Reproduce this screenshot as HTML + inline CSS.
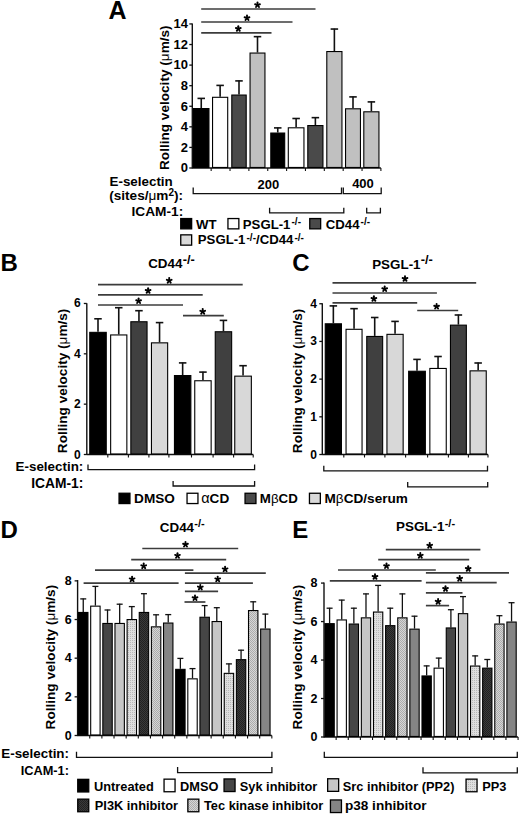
<!DOCTYPE html>
<html><head><meta charset="utf-8"><style>
html,body{margin:0;padding:0;background:#fff;}
svg{display:block;font-family:"Liberation Sans",sans-serif;}
</style></head><body>
<svg width="520" height="814" viewBox="0 0 520 814">
<defs>
<g id="st"><g id="arm"><path d="M-0.8 0 L-0.98 -2.5 A0.98 0.98 0 0 1 0.98 -2.5 L0.8 0 Z"/></g>
<use href="#arm" transform="rotate(72)"/><use href="#arm" transform="rotate(144)"/><use href="#arm" transform="rotate(216)"/><use href="#arm" transform="rotate(288)"/><circle r="1.25"/></g>
<pattern id="pp3" width="2" height="2" patternUnits="userSpaceOnUse"><rect width="2" height="2" fill="#dedede"/><rect width="1" height="1" fill="#b8b8b8"/></pattern>
<pattern id="tec" width="2" height="2" patternUnits="userSpaceOnUse"><rect width="2" height="2" fill="#d6d6d6"/><rect width="1" height="1" fill="#acacac"/><rect x="1" y="1" width="1" height="1" fill="#acacac"/></pattern>
<pattern id="pi3k" width="2" height="2" patternUnits="userSpaceOnUse"><rect width="2" height="2" fill="#3a3a3a"/><rect width="1" height="1" fill="#222"/><rect x="1" y="1" width="1" height="1" fill="#222"/></pattern>
</defs>
<text x="108.50" y="18.80" font-size="25" text-anchor="start" font-weight="bold" >A</text>
<text transform="translate(169.40,97.70) rotate(-90)" font-size="13.6" text-anchor="middle" font-weight="bold">Rolling velocity (<tspan font-weight="normal">μ</tspan>m/s)</text>
<line x1="192.30" y1="23.50" x2="192.30" y2="168.60" stroke="#111" stroke-width="1.4"/>
<line x1="189.30" y1="168.00" x2="192.30" y2="168.00" stroke="#111" stroke-width="1.3"/>
<text x="188.00" y="172.35" font-size="13" text-anchor="end" font-weight="bold" >0</text>
<line x1="189.30" y1="147.42" x2="192.30" y2="147.42" stroke="#111" stroke-width="1.3"/>
<text x="188.00" y="151.77" font-size="13" text-anchor="end" font-weight="bold" >2</text>
<line x1="189.30" y1="126.84" x2="192.30" y2="126.84" stroke="#111" stroke-width="1.3"/>
<text x="188.00" y="131.19" font-size="13" text-anchor="end" font-weight="bold" >4</text>
<line x1="189.30" y1="106.26" x2="192.30" y2="106.26" stroke="#111" stroke-width="1.3"/>
<text x="188.00" y="110.61" font-size="13" text-anchor="end" font-weight="bold" >6</text>
<line x1="189.30" y1="85.68" x2="192.30" y2="85.68" stroke="#111" stroke-width="1.3"/>
<text x="188.00" y="90.03" font-size="13" text-anchor="end" font-weight="bold" >8</text>
<line x1="189.30" y1="65.10" x2="192.30" y2="65.10" stroke="#111" stroke-width="1.3"/>
<text x="188.00" y="69.45" font-size="13" text-anchor="end" font-weight="bold" >10</text>
<line x1="189.30" y1="44.52" x2="192.30" y2="44.52" stroke="#111" stroke-width="1.3"/>
<text x="188.00" y="48.87" font-size="13" text-anchor="end" font-weight="bold" >12</text>
<line x1="189.30" y1="23.94" x2="192.30" y2="23.94" stroke="#111" stroke-width="1.3"/>
<text x="188.00" y="28.29" font-size="13" text-anchor="end" font-weight="bold" >14</text>
<line x1="192.30" y1="168.00" x2="380.90" y2="168.00" stroke="#111" stroke-width="1.4"/>
<line x1="211.16" y1="168.00" x2="211.16" y2="171.00" stroke="#111" stroke-width="1.1"/>
<line x1="230.02" y1="168.00" x2="230.02" y2="171.00" stroke="#111" stroke-width="1.1"/>
<line x1="248.88" y1="168.00" x2="248.88" y2="171.00" stroke="#111" stroke-width="1.1"/>
<line x1="267.74" y1="168.00" x2="267.74" y2="171.00" stroke="#111" stroke-width="1.1"/>
<line x1="286.60" y1="168.00" x2="286.60" y2="171.00" stroke="#111" stroke-width="1.1"/>
<line x1="305.46" y1="168.00" x2="305.46" y2="171.00" stroke="#111" stroke-width="1.1"/>
<line x1="324.32" y1="168.00" x2="324.32" y2="171.00" stroke="#111" stroke-width="1.1"/>
<line x1="343.18" y1="168.00" x2="343.18" y2="171.00" stroke="#111" stroke-width="1.1"/>
<line x1="362.04" y1="168.00" x2="362.04" y2="171.00" stroke="#111" stroke-width="1.1"/>
<line x1="380.90" y1="168.00" x2="380.90" y2="171.00" stroke="#111" stroke-width="1.1"/>
<line x1="201.25" y1="98.00" x2="201.25" y2="108.00" stroke="#111" stroke-width="1.6"/>
<line x1="197.50" y1="98.40" x2="205.00" y2="98.40" stroke="#111" stroke-width="1.6"/>
<rect x="193.55" y="108.55" width="15.40" height="58.90" fill="#000" stroke="#000" stroke-width="1.1"/>
<line x1="220.12" y1="85.00" x2="220.12" y2="96.75" stroke="#111" stroke-width="1.6"/>
<line x1="216.38" y1="85.40" x2="223.88" y2="85.40" stroke="#111" stroke-width="1.6"/>
<rect x="212.55" y="97.30" width="15.15" height="70.15" fill="#fff" stroke="#000" stroke-width="1.1"/>
<line x1="239.00" y1="80.50" x2="239.00" y2="94.50" stroke="#111" stroke-width="1.6"/>
<line x1="235.25" y1="80.90" x2="242.75" y2="80.90" stroke="#111" stroke-width="1.6"/>
<rect x="231.80" y="95.05" width="14.40" height="72.40" fill="#4a4a4a" stroke="#000" stroke-width="1.1"/>
<line x1="257.50" y1="36.25" x2="257.50" y2="52.50" stroke="#111" stroke-width="1.6"/>
<line x1="253.75" y1="36.65" x2="261.25" y2="36.65" stroke="#111" stroke-width="1.6"/>
<rect x="250.05" y="53.05" width="14.90" height="114.40" fill="#c0c0c0" stroke="#000" stroke-width="1.1"/>
<line x1="277.75" y1="127.50" x2="277.75" y2="132.50" stroke="#111" stroke-width="1.6"/>
<line x1="274.00" y1="127.90" x2="281.50" y2="127.90" stroke="#111" stroke-width="1.6"/>
<rect x="270.80" y="133.05" width="13.90" height="34.40" fill="#000" stroke="#000" stroke-width="1.1"/>
<line x1="296.12" y1="118.10" x2="296.12" y2="127.25" stroke="#111" stroke-width="1.6"/>
<line x1="292.38" y1="118.50" x2="299.88" y2="118.50" stroke="#111" stroke-width="1.6"/>
<rect x="288.30" y="127.80" width="15.65" height="39.65" fill="#fff" stroke="#000" stroke-width="1.1"/>
<line x1="315.38" y1="117.25" x2="315.38" y2="125.00" stroke="#111" stroke-width="1.6"/>
<line x1="311.62" y1="117.65" x2="319.12" y2="117.65" stroke="#111" stroke-width="1.6"/>
<rect x="307.80" y="125.55" width="15.15" height="41.90" fill="#4a4a4a" stroke="#000" stroke-width="1.1"/>
<line x1="334.38" y1="28.65" x2="334.38" y2="51.00" stroke="#111" stroke-width="1.6"/>
<line x1="330.62" y1="29.05" x2="338.12" y2="29.05" stroke="#111" stroke-width="1.6"/>
<rect x="326.80" y="51.55" width="15.15" height="115.90" fill="#c0c0c0" stroke="#000" stroke-width="1.1"/>
<line x1="353.00" y1="96.50" x2="353.00" y2="108.25" stroke="#111" stroke-width="1.6"/>
<line x1="349.25" y1="96.90" x2="356.75" y2="96.90" stroke="#111" stroke-width="1.6"/>
<rect x="345.55" y="108.80" width="14.90" height="58.65" fill="#c0c0c0" stroke="#000" stroke-width="1.1"/>
<line x1="371.38" y1="101.50" x2="371.38" y2="111.25" stroke="#111" stroke-width="1.6"/>
<line x1="367.62" y1="101.90" x2="375.12" y2="101.90" stroke="#111" stroke-width="1.6"/>
<rect x="363.80" y="111.80" width="15.15" height="55.65" fill="#c0c0c0" stroke="#000" stroke-width="1.1"/>
<line x1="201.20" y1="9.00" x2="315.50" y2="9.00" stroke="#3c3c3c" stroke-width="1.7"/>
<use href="#st" transform="translate(257.50,5.00) scale(1.0)"/>
<line x1="201.20" y1="22.00" x2="292.50" y2="22.00" stroke="#3c3c3c" stroke-width="1.7"/>
<use href="#st" transform="translate(247.00,18.00) scale(1.0)"/>
<line x1="201.20" y1="32.80" x2="271.50" y2="32.80" stroke="#3c3c3c" stroke-width="1.7"/>
<use href="#st" transform="translate(238.30,28.80) scale(1.0)"/>
<text x="109.50" y="185.50" font-size="13.4" text-anchor="start" font-weight="bold" >E-selectin</text>
<text x="109.20" y="200.00" font-size="13.6" text-anchor="start" font-weight="bold" >(sites/<tspan font-weight="normal">μ</tspan>m<tspan font-size="10" dy="-4">2</tspan><tspan dy="4">):</tspan></text>
<text x="183.20" y="215.50" font-size="13.7" text-anchor="end" font-weight="bold" >ICAM-1:</text>
<path d="M193.20 187.60 V193.60 H341.50 V187.60" fill="none" stroke="#111" stroke-width="1.3"/>
<path d="M343.30 187.60 V193.60 H381.20 V187.60" fill="none" stroke="#111" stroke-width="1.3"/>
<text x="268.30" y="188.50" font-size="13" text-anchor="middle" font-weight="bold" >200</text>
<text x="363.00" y="187.50" font-size="13" text-anchor="middle" font-weight="bold" >400</text>
<path d="M269.60 207.80 V212.80 H343.80 V207.80" fill="none" stroke="#111" stroke-width="1.3"/>
<path d="M366.70 207.80 V212.80 H380.40 V207.80" fill="none" stroke="#111" stroke-width="1.3"/>
<rect x="180.75" y="218.55" width="10.90" height="10.30" fill="#000" stroke="#000" stroke-width="1.3"/>
<text x="196.00" y="228.60" font-size="13.2" text-anchor="start" font-weight="bold" >WT</text>
<rect x="227.95" y="218.55" width="10.90" height="10.30" fill="#fff" stroke="#000" stroke-width="1.3"/>
<text x="242.80" y="228.60" font-size="13.2" text-anchor="start" font-weight="bold" >PSGL-1<tspan font-size="10" dx="1.1" dy="-3.6">-/-</tspan></text>
<rect x="309.75" y="218.55" width="10.90" height="10.30" fill="#4a4a4a" stroke="#000" stroke-width="1.3"/>
<text x="325.80" y="228.60" font-size="13.2" text-anchor="start" font-weight="bold" >CD44<tspan font-size="10" dx="1.1" dy="-3.6">-/-</tspan></text>
<rect x="180.75" y="234.85" width="10.90" height="10.30" fill="#dadada" stroke="#000" stroke-width="1.3"/>
<text x="197.80" y="244.30" font-size="13.2" text-anchor="start" font-weight="bold" >PSGL-1<tspan font-size="10" dx="1.1" dy="-3.6">-/-</tspan><tspan dy="3.6">/CD44</tspan><tspan font-size="10" dx="1.1" dy="-3.6">-/-</tspan></text>
<text x="0.50" y="271.30" font-size="24" text-anchor="start" font-weight="bold" >B</text>
<text x="148.20" y="268.30" font-size="13.4" text-anchor="start" font-weight="bold" >CD44<tspan font-size="12.8" dx="0.2" dy="-4.6">-/-</tspan></text>
<text transform="translate(67.30,380.90) rotate(-90)" font-size="13.6" text-anchor="middle" font-weight="bold">Rolling velocity (<tspan font-weight="normal">μ</tspan>m/s)</text>
<line x1="86.80" y1="303.30" x2="86.80" y2="455.10" stroke="#111" stroke-width="1.4"/>
<line x1="83.80" y1="454.50" x2="86.80" y2="454.50" stroke="#111" stroke-width="1.3"/>
<text x="80.80" y="458.50" font-size="12" text-anchor="end" font-weight="bold" >0</text>
<line x1="83.80" y1="404.16" x2="86.80" y2="404.16" stroke="#111" stroke-width="1.3"/>
<text x="80.80" y="408.16" font-size="12" text-anchor="end" font-weight="bold" >2</text>
<line x1="83.80" y1="353.82" x2="86.80" y2="353.82" stroke="#111" stroke-width="1.3"/>
<text x="80.80" y="357.82" font-size="12" text-anchor="end" font-weight="bold" >4</text>
<line x1="83.80" y1="303.48" x2="86.80" y2="303.48" stroke="#111" stroke-width="1.3"/>
<text x="80.80" y="307.48" font-size="12" text-anchor="end" font-weight="bold" >6</text>
<line x1="86.80" y1="454.50" x2="253.20" y2="454.50" stroke="#111" stroke-width="1.4"/>
<line x1="107.80" y1="454.50" x2="107.80" y2="457.50" stroke="#111" stroke-width="1.1"/>
<line x1="128.40" y1="454.50" x2="128.40" y2="457.50" stroke="#111" stroke-width="1.1"/>
<line x1="148.90" y1="454.50" x2="148.90" y2="457.50" stroke="#111" stroke-width="1.1"/>
<line x1="168.90" y1="454.50" x2="168.90" y2="457.50" stroke="#111" stroke-width="1.1"/>
<line x1="191.50" y1="454.50" x2="191.50" y2="457.50" stroke="#111" stroke-width="1.1"/>
<line x1="213.10" y1="454.50" x2="213.10" y2="457.50" stroke="#111" stroke-width="1.1"/>
<line x1="233.60" y1="454.50" x2="233.60" y2="457.50" stroke="#111" stroke-width="1.1"/>
<line x1="253.20" y1="454.50" x2="253.20" y2="457.50" stroke="#111" stroke-width="1.1"/>
<line x1="98.00" y1="318.40" x2="98.00" y2="331.80" stroke="#111" stroke-width="1.6"/>
<line x1="94.25" y1="318.80" x2="101.75" y2="318.80" stroke="#111" stroke-width="1.6"/>
<rect x="89.75" y="332.35" width="16.50" height="121.60" fill="#000" stroke="#000" stroke-width="1.1"/>
<line x1="118.75" y1="307.30" x2="118.75" y2="334.40" stroke="#111" stroke-width="1.6"/>
<line x1="115.00" y1="307.70" x2="122.50" y2="307.70" stroke="#111" stroke-width="1.6"/>
<rect x="110.65" y="334.95" width="16.20" height="119.00" fill="#fff" stroke="#000" stroke-width="1.1"/>
<line x1="138.95" y1="310.30" x2="138.95" y2="321.20" stroke="#111" stroke-width="1.6"/>
<line x1="135.20" y1="310.70" x2="142.70" y2="310.70" stroke="#111" stroke-width="1.6"/>
<rect x="130.85" y="321.75" width="16.20" height="132.20" fill="#404040" stroke="#000" stroke-width="1.1"/>
<line x1="159.55" y1="322.20" x2="159.55" y2="342.30" stroke="#111" stroke-width="1.6"/>
<line x1="155.80" y1="322.60" x2="163.30" y2="322.60" stroke="#111" stroke-width="1.6"/>
<rect x="151.45" y="342.85" width="16.20" height="111.10" fill="#d8d8d8" stroke="#000" stroke-width="1.1"/>
<line x1="182.65" y1="362.50" x2="182.65" y2="375.00" stroke="#111" stroke-width="1.6"/>
<line x1="178.90" y1="362.90" x2="186.40" y2="362.90" stroke="#111" stroke-width="1.6"/>
<rect x="174.45" y="375.55" width="16.40" height="78.40" fill="#000" stroke="#000" stroke-width="1.1"/>
<line x1="202.95" y1="371.70" x2="202.95" y2="380.20" stroke="#111" stroke-width="1.6"/>
<line x1="199.20" y1="372.10" x2="206.70" y2="372.10" stroke="#111" stroke-width="1.6"/>
<rect x="194.75" y="380.75" width="16.40" height="73.20" fill="#fff" stroke="#000" stroke-width="1.1"/>
<line x1="223.45" y1="320.00" x2="223.45" y2="331.20" stroke="#111" stroke-width="1.6"/>
<line x1="219.70" y1="320.40" x2="227.20" y2="320.40" stroke="#111" stroke-width="1.6"/>
<rect x="215.25" y="331.75" width="16.40" height="122.20" fill="#404040" stroke="#000" stroke-width="1.1"/>
<line x1="243.05" y1="365.30" x2="243.05" y2="375.60" stroke="#111" stroke-width="1.6"/>
<line x1="239.30" y1="365.70" x2="246.80" y2="365.70" stroke="#111" stroke-width="1.6"/>
<rect x="234.75" y="376.15" width="16.60" height="77.80" fill="#d8d8d8" stroke="#000" stroke-width="1.1"/>
<line x1="98.00" y1="284.60" x2="242.70" y2="284.60" stroke="#3c3c3c" stroke-width="1.7"/>
<use href="#st" transform="translate(169.20,280.60) scale(1.0)"/>
<line x1="98.00" y1="294.80" x2="202.70" y2="294.80" stroke="#3c3c3c" stroke-width="1.7"/>
<use href="#st" transform="translate(148.10,290.80) scale(1.0)"/>
<line x1="98.00" y1="305.00" x2="183.00" y2="305.00" stroke="#3c3c3c" stroke-width="1.7"/>
<use href="#st" transform="translate(138.60,301.00) scale(1.0)"/>
<line x1="183.00" y1="315.60" x2="223.80" y2="315.60" stroke="#3c3c3c" stroke-width="1.7"/>
<use href="#st" transform="translate(202.70,311.60) scale(1.0)"/>
<text x="83.30" y="471.30" font-size="13.4" text-anchor="end" font-weight="bold" >E-selectin:</text>
<text x="83.30" y="487.50" font-size="13.8" text-anchor="end" font-weight="bold" >ICAM-1:</text>
<path d="M88.00 464.60 V469.60 H254.60 V464.60" fill="none" stroke="#111" stroke-width="1.3"/>
<path d="M173.10 481.00 V486.00 H254.60 V481.00" fill="none" stroke="#111" stroke-width="1.3"/>
<rect x="119.05" y="493.25" width="10.90" height="10.30" fill="#000" stroke="#000" stroke-width="1.3"/>
<text x="134.10" y="503.30" font-size="13.6" text-anchor="start" font-weight="bold" >DMSO</text>
<rect x="187.05" y="493.25" width="10.90" height="10.30" fill="#fff" stroke="#000" stroke-width="1.3"/>
<text x="201.20" y="503.30" font-size="13.6" text-anchor="start" font-weight="bold" ><tspan font-weight="normal" font-size="14.5">α</tspan>CD</text>
<rect x="245.05" y="493.25" width="10.90" height="10.30" fill="#4a4a4a" stroke="#000" stroke-width="1.3"/>
<text x="259.80" y="503.30" font-size="13.3" text-anchor="start" font-weight="bold" >M<tspan font-weight="normal">β</tspan>CD</text>
<rect x="309.45" y="493.25" width="10.90" height="10.30" fill="#dadada" stroke="#000" stroke-width="1.3"/>
<text x="324.50" y="503.30" font-size="13.6" text-anchor="start" font-weight="bold" >M<tspan font-weight="normal">β</tspan>CD/serum</text>
<text x="292.30" y="271.30" font-size="24" text-anchor="start" font-weight="bold" >C</text>
<text x="372.20" y="268.50" font-size="13.4" text-anchor="start" font-weight="bold" >PSGL-1<tspan font-size="12.8" dx="0.2" dy="-4.6">-/-</tspan></text>
<text transform="translate(302.00,380.90) rotate(-90)" font-size="13.6" text-anchor="middle" font-weight="bold">Rolling velocity (<tspan font-weight="normal">μ</tspan>m/s)</text>
<line x1="322.30" y1="303.30" x2="322.30" y2="455.10" stroke="#111" stroke-width="1.4"/>
<line x1="319.30" y1="454.50" x2="322.30" y2="454.50" stroke="#111" stroke-width="1.3"/>
<text x="316.90" y="458.50" font-size="12" text-anchor="end" font-weight="bold" >0</text>
<line x1="319.30" y1="416.81" x2="322.30" y2="416.81" stroke="#111" stroke-width="1.3"/>
<text x="316.90" y="420.81" font-size="12" text-anchor="end" font-weight="bold" >1</text>
<line x1="319.30" y1="379.12" x2="322.30" y2="379.12" stroke="#111" stroke-width="1.3"/>
<text x="316.90" y="383.12" font-size="12" text-anchor="end" font-weight="bold" >2</text>
<line x1="319.30" y1="341.43" x2="322.30" y2="341.43" stroke="#111" stroke-width="1.3"/>
<text x="316.90" y="345.43" font-size="12" text-anchor="end" font-weight="bold" >3</text>
<line x1="319.30" y1="303.74" x2="322.30" y2="303.74" stroke="#111" stroke-width="1.3"/>
<text x="316.90" y="307.74" font-size="12" text-anchor="end" font-weight="bold" >4</text>
<line x1="322.30" y1="454.50" x2="488.00" y2="454.50" stroke="#111" stroke-width="1.4"/>
<line x1="343.80" y1="454.50" x2="343.80" y2="457.50" stroke="#111" stroke-width="1.1"/>
<line x1="364.50" y1="454.50" x2="364.50" y2="457.50" stroke="#111" stroke-width="1.1"/>
<line x1="384.90" y1="454.50" x2="384.90" y2="457.50" stroke="#111" stroke-width="1.1"/>
<line x1="405.60" y1="454.50" x2="405.60" y2="457.50" stroke="#111" stroke-width="1.1"/>
<line x1="427.60" y1="454.50" x2="427.60" y2="457.50" stroke="#111" stroke-width="1.1"/>
<line x1="448.40" y1="454.50" x2="448.40" y2="457.50" stroke="#111" stroke-width="1.1"/>
<line x1="468.40" y1="454.50" x2="468.40" y2="457.50" stroke="#111" stroke-width="1.1"/>
<line x1="488.00" y1="454.50" x2="488.00" y2="457.50" stroke="#111" stroke-width="1.1"/>
<line x1="333.35" y1="305.50" x2="333.35" y2="323.25" stroke="#111" stroke-width="1.6"/>
<line x1="329.60" y1="305.90" x2="337.10" y2="305.90" stroke="#111" stroke-width="1.6"/>
<rect x="325.25" y="323.80" width="16.20" height="130.15" fill="#000" stroke="#000" stroke-width="1.1"/>
<line x1="354.05" y1="308.25" x2="354.05" y2="328.75" stroke="#111" stroke-width="1.6"/>
<line x1="350.30" y1="308.65" x2="357.80" y2="308.65" stroke="#111" stroke-width="1.6"/>
<rect x="346.05" y="329.30" width="16.00" height="124.65" fill="#fff" stroke="#000" stroke-width="1.1"/>
<line x1="374.70" y1="317.10" x2="374.70" y2="335.90" stroke="#111" stroke-width="1.6"/>
<line x1="370.95" y1="317.50" x2="378.45" y2="317.50" stroke="#111" stroke-width="1.6"/>
<rect x="366.75" y="336.45" width="15.90" height="117.50" fill="#404040" stroke="#000" stroke-width="1.1"/>
<line x1="395.05" y1="321.00" x2="395.05" y2="333.80" stroke="#111" stroke-width="1.6"/>
<line x1="391.30" y1="321.40" x2="398.80" y2="321.40" stroke="#111" stroke-width="1.6"/>
<rect x="386.95" y="334.35" width="16.20" height="119.60" fill="#d8d8d8" stroke="#000" stroke-width="1.1"/>
<line x1="417.00" y1="359.00" x2="417.00" y2="370.70" stroke="#111" stroke-width="1.6"/>
<line x1="413.25" y1="359.40" x2="420.75" y2="359.40" stroke="#111" stroke-width="1.6"/>
<rect x="408.65" y="371.25" width="16.70" height="82.70" fill="#000" stroke="#000" stroke-width="1.1"/>
<line x1="438.05" y1="356.10" x2="438.05" y2="367.90" stroke="#111" stroke-width="1.6"/>
<line x1="434.30" y1="356.50" x2="441.80" y2="356.50" stroke="#111" stroke-width="1.6"/>
<rect x="429.85" y="368.45" width="16.40" height="85.50" fill="#fff" stroke="#000" stroke-width="1.1"/>
<line x1="458.40" y1="314.60" x2="458.40" y2="324.60" stroke="#111" stroke-width="1.6"/>
<line x1="454.65" y1="315.00" x2="462.15" y2="315.00" stroke="#111" stroke-width="1.6"/>
<rect x="450.45" y="325.15" width="15.90" height="128.80" fill="#404040" stroke="#000" stroke-width="1.1"/>
<line x1="478.15" y1="362.60" x2="478.15" y2="370.30" stroke="#111" stroke-width="1.6"/>
<line x1="474.40" y1="363.00" x2="481.90" y2="363.00" stroke="#111" stroke-width="1.6"/>
<rect x="470.05" y="370.85" width="16.20" height="83.10" fill="#d8d8d8" stroke="#000" stroke-width="1.1"/>
<line x1="332.50" y1="282.80" x2="476.20" y2="282.80" stroke="#3c3c3c" stroke-width="1.7"/>
<use href="#st" transform="translate(405.00,278.80) scale(1.0)"/>
<line x1="332.50" y1="293.00" x2="436.90" y2="293.00" stroke="#3c3c3c" stroke-width="1.7"/>
<use href="#st" transform="translate(384.70,289.00) scale(1.0)"/>
<line x1="332.50" y1="302.80" x2="417.20" y2="302.80" stroke="#3c3c3c" stroke-width="1.7"/>
<use href="#st" transform="translate(373.90,298.80) scale(1.0)"/>
<line x1="417.20" y1="310.50" x2="458.20" y2="310.50" stroke="#3c3c3c" stroke-width="1.7"/>
<use href="#st" transform="translate(436.60,306.50) scale(1.0)"/>
<path d="M323.80 465.80 V470.80 H487.50 V465.80" fill="none" stroke="#111" stroke-width="1.3"/>
<path d="M407.70 481.90 V486.90 H487.70 V481.90" fill="none" stroke="#111" stroke-width="1.3"/>
<text x="0.50" y="538.00" font-size="24" text-anchor="start" font-weight="bold" >D</text>
<text x="159.80" y="531.60" font-size="13.4" text-anchor="start" font-weight="bold" >CD44<tspan font-size="11" dx="0.2" dy="-4.6">-/-</tspan></text>
<text transform="translate(55.40,657.10) rotate(-90)" font-size="13.6" text-anchor="middle" font-weight="bold">Rolling velocity (<tspan font-weight="normal">μ</tspan>m/s)</text>
<line x1="77.60" y1="580.00" x2="77.60" y2="736.10" stroke="#111" stroke-width="1.4"/>
<line x1="74.60" y1="735.50" x2="77.60" y2="735.50" stroke="#111" stroke-width="1.3"/>
<text x="71.60" y="739.68" font-size="12.5" text-anchor="end" font-weight="bold" >0</text>
<line x1="74.60" y1="696.84" x2="77.60" y2="696.84" stroke="#111" stroke-width="1.3"/>
<text x="71.60" y="701.02" font-size="12.5" text-anchor="end" font-weight="bold" >2</text>
<line x1="74.60" y1="658.18" x2="77.60" y2="658.18" stroke="#111" stroke-width="1.3"/>
<text x="71.60" y="662.36" font-size="12.5" text-anchor="end" font-weight="bold" >4</text>
<line x1="74.60" y1="619.52" x2="77.60" y2="619.52" stroke="#111" stroke-width="1.3"/>
<text x="71.60" y="623.70" font-size="12.5" text-anchor="end" font-weight="bold" >6</text>
<line x1="74.60" y1="580.86" x2="77.60" y2="580.86" stroke="#111" stroke-width="1.3"/>
<text x="71.60" y="585.04" font-size="12.5" text-anchor="end" font-weight="bold" >8</text>
<line x1="77.60" y1="735.50" x2="271.84" y2="735.50" stroke="#111" stroke-width="1.4"/>
<line x1="89.74" y1="735.50" x2="89.74" y2="738.50" stroke="#111" stroke-width="1.1"/>
<line x1="101.88" y1="735.50" x2="101.88" y2="738.50" stroke="#111" stroke-width="1.1"/>
<line x1="114.02" y1="735.50" x2="114.02" y2="738.50" stroke="#111" stroke-width="1.1"/>
<line x1="126.16" y1="735.50" x2="126.16" y2="738.50" stroke="#111" stroke-width="1.1"/>
<line x1="138.30" y1="735.50" x2="138.30" y2="738.50" stroke="#111" stroke-width="1.1"/>
<line x1="150.44" y1="735.50" x2="150.44" y2="738.50" stroke="#111" stroke-width="1.1"/>
<line x1="162.58" y1="735.50" x2="162.58" y2="738.50" stroke="#111" stroke-width="1.1"/>
<line x1="174.72" y1="735.50" x2="174.72" y2="738.50" stroke="#111" stroke-width="1.1"/>
<line x1="186.86" y1="735.50" x2="186.86" y2="738.50" stroke="#111" stroke-width="1.1"/>
<line x1="199.00" y1="735.50" x2="199.00" y2="738.50" stroke="#111" stroke-width="1.1"/>
<line x1="211.14" y1="735.50" x2="211.14" y2="738.50" stroke="#111" stroke-width="1.1"/>
<line x1="223.28" y1="735.50" x2="223.28" y2="738.50" stroke="#111" stroke-width="1.1"/>
<line x1="235.42" y1="735.50" x2="235.42" y2="738.50" stroke="#111" stroke-width="1.1"/>
<line x1="247.56" y1="735.50" x2="247.56" y2="738.50" stroke="#111" stroke-width="1.1"/>
<line x1="259.70" y1="735.50" x2="259.70" y2="738.50" stroke="#111" stroke-width="1.1"/>
<line x1="271.84" y1="735.50" x2="271.84" y2="738.50" stroke="#111" stroke-width="1.1"/>
<line x1="83.25" y1="598.50" x2="83.25" y2="611.90" stroke="#111" stroke-width="1.3"/>
<line x1="80.25" y1="598.90" x2="86.25" y2="598.90" stroke="#111" stroke-width="1.3"/>
<rect x="78.55" y="612.45" width="9.40" height="122.50" fill="#000" stroke="#000" stroke-width="1.1"/>
<line x1="95.39" y1="586.00" x2="95.39" y2="605.60" stroke="#111" stroke-width="1.3"/>
<line x1="92.39" y1="586.40" x2="98.39" y2="586.40" stroke="#111" stroke-width="1.3"/>
<rect x="90.69" y="606.15" width="9.40" height="128.80" fill="#fff" stroke="#000" stroke-width="1.1"/>
<line x1="107.53" y1="609.60" x2="107.53" y2="622.90" stroke="#111" stroke-width="1.3"/>
<line x1="104.53" y1="610.00" x2="110.53" y2="610.00" stroke="#111" stroke-width="1.3"/>
<rect x="102.83" y="623.45" width="9.40" height="111.50" fill="#464646" stroke="#000" stroke-width="1.1"/>
<line x1="119.67" y1="603.80" x2="119.67" y2="622.90" stroke="#111" stroke-width="1.3"/>
<line x1="116.67" y1="604.20" x2="122.67" y2="604.20" stroke="#111" stroke-width="1.3"/>
<rect x="114.97" y="623.45" width="9.40" height="111.50" fill="#c6c6c6" stroke="#000" stroke-width="1.1"/>
<line x1="131.81" y1="606.20" x2="131.81" y2="619.00" stroke="#111" stroke-width="1.3"/>
<line x1="128.81" y1="606.60" x2="134.81" y2="606.60" stroke="#111" stroke-width="1.3"/>
<rect x="127.11" y="619.55" width="9.40" height="115.40" fill="url(#pp3)" stroke="#000" stroke-width="1.1"/>
<line x1="143.95" y1="593.30" x2="143.95" y2="611.90" stroke="#111" stroke-width="1.3"/>
<line x1="140.95" y1="593.70" x2="146.95" y2="593.70" stroke="#111" stroke-width="1.3"/>
<rect x="139.25" y="612.45" width="9.40" height="122.50" fill="url(#pi3k)" stroke="#000" stroke-width="1.1"/>
<line x1="156.09" y1="614.40" x2="156.09" y2="626.30" stroke="#111" stroke-width="1.3"/>
<line x1="153.09" y1="614.80" x2="159.09" y2="614.80" stroke="#111" stroke-width="1.3"/>
<rect x="151.39" y="626.85" width="9.40" height="108.10" fill="url(#tec)" stroke="#000" stroke-width="1.1"/>
<line x1="168.23" y1="614.20" x2="168.23" y2="622.50" stroke="#111" stroke-width="1.3"/>
<line x1="165.23" y1="614.60" x2="171.23" y2="614.60" stroke="#111" stroke-width="1.3"/>
<rect x="163.53" y="623.05" width="9.40" height="111.90" fill="#858585" stroke="#000" stroke-width="1.1"/>
<line x1="180.37" y1="658.00" x2="180.37" y2="668.80" stroke="#111" stroke-width="1.3"/>
<line x1="177.37" y1="658.40" x2="183.37" y2="658.40" stroke="#111" stroke-width="1.3"/>
<rect x="175.67" y="669.35" width="9.40" height="65.60" fill="#000" stroke="#000" stroke-width="1.1"/>
<line x1="192.51" y1="668.20" x2="192.51" y2="678.30" stroke="#111" stroke-width="1.3"/>
<line x1="189.51" y1="668.60" x2="195.51" y2="668.60" stroke="#111" stroke-width="1.3"/>
<rect x="187.81" y="678.85" width="9.40" height="56.10" fill="#fff" stroke="#000" stroke-width="1.1"/>
<line x1="204.65" y1="605.20" x2="204.65" y2="616.70" stroke="#111" stroke-width="1.3"/>
<line x1="201.65" y1="605.60" x2="207.65" y2="605.60" stroke="#111" stroke-width="1.3"/>
<rect x="199.95" y="617.25" width="9.40" height="117.70" fill="#464646" stroke="#000" stroke-width="1.1"/>
<line x1="216.79" y1="607.30" x2="216.79" y2="621.00" stroke="#111" stroke-width="1.3"/>
<line x1="213.79" y1="607.70" x2="219.79" y2="607.70" stroke="#111" stroke-width="1.3"/>
<rect x="212.09" y="621.55" width="9.40" height="113.40" fill="#c6c6c6" stroke="#000" stroke-width="1.1"/>
<line x1="228.93" y1="663.50" x2="228.93" y2="672.80" stroke="#111" stroke-width="1.3"/>
<line x1="225.93" y1="663.90" x2="231.93" y2="663.90" stroke="#111" stroke-width="1.3"/>
<rect x="224.23" y="673.35" width="9.40" height="61.60" fill="url(#pp3)" stroke="#000" stroke-width="1.1"/>
<line x1="241.07" y1="649.80" x2="241.07" y2="659.10" stroke="#111" stroke-width="1.3"/>
<line x1="238.07" y1="650.20" x2="244.07" y2="650.20" stroke="#111" stroke-width="1.3"/>
<rect x="236.37" y="659.65" width="9.40" height="75.30" fill="url(#pi3k)" stroke="#000" stroke-width="1.1"/>
<line x1="253.21" y1="601.40" x2="253.21" y2="610.00" stroke="#111" stroke-width="1.3"/>
<line x1="250.21" y1="601.80" x2="256.21" y2="601.80" stroke="#111" stroke-width="1.3"/>
<rect x="248.51" y="610.55" width="9.40" height="124.40" fill="url(#tec)" stroke="#000" stroke-width="1.1"/>
<line x1="265.35" y1="613.70" x2="265.35" y2="628.50" stroke="#111" stroke-width="1.3"/>
<line x1="262.35" y1="614.10" x2="268.35" y2="614.10" stroke="#111" stroke-width="1.3"/>
<rect x="260.65" y="629.05" width="9.40" height="105.90" fill="#858585" stroke="#000" stroke-width="1.1"/>
<line x1="142.30" y1="548.50" x2="238.20" y2="548.50" stroke="#3c3c3c" stroke-width="1.7"/>
<use href="#st" transform="translate(185.50,544.50) scale(1.0)"/>
<line x1="131.20" y1="559.70" x2="226.20" y2="559.70" stroke="#3c3c3c" stroke-width="1.7"/>
<use href="#st" transform="translate(177.50,555.70) scale(1.0)"/>
<line x1="95.00" y1="570.10" x2="193.40" y2="570.10" stroke="#3c3c3c" stroke-width="1.7"/>
<use href="#st" transform="translate(143.70,566.10) scale(1.0)"/>
<line x1="83.60" y1="583.20" x2="178.60" y2="583.20" stroke="#3c3c3c" stroke-width="1.7"/>
<use href="#st" transform="translate(132.10,579.20) scale(1.0)"/>
<line x1="184.90" y1="573.20" x2="265.80" y2="573.20" stroke="#3c3c3c" stroke-width="1.7"/>
<use href="#st" transform="translate(225.10,569.20) scale(1.0)"/>
<line x1="184.90" y1="583.20" x2="252.90" y2="583.20" stroke="#3c3c3c" stroke-width="1.7"/>
<use href="#st" transform="translate(217.70,579.20) scale(1.0)"/>
<line x1="184.90" y1="591.40" x2="218.10" y2="591.40" stroke="#3c3c3c" stroke-width="1.7"/>
<use href="#st" transform="translate(200.30,587.40) scale(1.0)"/>
<line x1="184.50" y1="602.00" x2="205.40" y2="602.00" stroke="#3c3c3c" stroke-width="1.7"/>
<use href="#st" transform="translate(195.00,598.00) scale(1.0)"/>
<text x="69.00" y="758.00" font-size="13.4" text-anchor="end" font-weight="bold" >E-selectin:</text>
<text x="69.00" y="774.50" font-size="12.8" text-anchor="end" font-weight="bold" >ICAM-1:</text>
<path d="M76.50 751.80 V757.30 H271.90 V751.80" fill="none" stroke="#111" stroke-width="1.3"/>
<path d="M177.60 767.10 V772.60 H271.90 V767.10" fill="none" stroke="#111" stroke-width="1.3"/>
<text x="292.30" y="538.00" font-size="24" text-anchor="start" font-weight="bold" >E</text>
<text x="396.10" y="531.20" font-size="13.4" text-anchor="start" font-weight="bold" >PSGL-1<tspan font-size="11" dx="0.2" dy="-4.6">-/-</tspan></text>
<text transform="translate(302.40,657.10) rotate(-90)" font-size="13.6" text-anchor="middle" font-weight="bold">Rolling velocity (<tspan font-weight="normal">μ</tspan>m/s)</text>
<line x1="324.00" y1="582.50" x2="324.00" y2="737.60" stroke="#111" stroke-width="1.4"/>
<line x1="321.00" y1="737.00" x2="324.00" y2="737.00" stroke="#111" stroke-width="1.3"/>
<text x="317.50" y="741.18" font-size="12.5" text-anchor="end" font-weight="bold" >0</text>
<line x1="321.00" y1="698.52" x2="324.00" y2="698.52" stroke="#111" stroke-width="1.3"/>
<text x="317.50" y="702.70" font-size="12.5" text-anchor="end" font-weight="bold" >2</text>
<line x1="321.00" y1="660.04" x2="324.00" y2="660.04" stroke="#111" stroke-width="1.3"/>
<text x="317.50" y="664.22" font-size="12.5" text-anchor="end" font-weight="bold" >4</text>
<line x1="321.00" y1="621.56" x2="324.00" y2="621.56" stroke="#111" stroke-width="1.3"/>
<text x="317.50" y="625.74" font-size="12.5" text-anchor="end" font-weight="bold" >6</text>
<line x1="321.00" y1="583.08" x2="324.00" y2="583.08" stroke="#111" stroke-width="1.3"/>
<text x="317.50" y="587.26" font-size="12.5" text-anchor="end" font-weight="bold" >8</text>
<line x1="324.00" y1="737.00" x2="518.08" y2="737.00" stroke="#111" stroke-width="1.4"/>
<line x1="336.13" y1="737.00" x2="336.13" y2="740.00" stroke="#111" stroke-width="1.1"/>
<line x1="348.26" y1="737.00" x2="348.26" y2="740.00" stroke="#111" stroke-width="1.1"/>
<line x1="360.39" y1="737.00" x2="360.39" y2="740.00" stroke="#111" stroke-width="1.1"/>
<line x1="372.52" y1="737.00" x2="372.52" y2="740.00" stroke="#111" stroke-width="1.1"/>
<line x1="384.65" y1="737.00" x2="384.65" y2="740.00" stroke="#111" stroke-width="1.1"/>
<line x1="396.78" y1="737.00" x2="396.78" y2="740.00" stroke="#111" stroke-width="1.1"/>
<line x1="408.91" y1="737.00" x2="408.91" y2="740.00" stroke="#111" stroke-width="1.1"/>
<line x1="421.04" y1="737.00" x2="421.04" y2="740.00" stroke="#111" stroke-width="1.1"/>
<line x1="433.17" y1="737.00" x2="433.17" y2="740.00" stroke="#111" stroke-width="1.1"/>
<line x1="445.30" y1="737.00" x2="445.30" y2="740.00" stroke="#111" stroke-width="1.1"/>
<line x1="457.43" y1="737.00" x2="457.43" y2="740.00" stroke="#111" stroke-width="1.1"/>
<line x1="469.56" y1="737.00" x2="469.56" y2="740.00" stroke="#111" stroke-width="1.1"/>
<line x1="481.69" y1="737.00" x2="481.69" y2="740.00" stroke="#111" stroke-width="1.1"/>
<line x1="493.82" y1="737.00" x2="493.82" y2="740.00" stroke="#111" stroke-width="1.1"/>
<line x1="505.95" y1="737.00" x2="505.95" y2="740.00" stroke="#111" stroke-width="1.1"/>
<line x1="518.08" y1="737.00" x2="518.08" y2="740.00" stroke="#111" stroke-width="1.1"/>
<line x1="329.60" y1="607.80" x2="329.60" y2="623.10" stroke="#111" stroke-width="1.3"/>
<line x1="326.60" y1="608.20" x2="332.60" y2="608.20" stroke="#111" stroke-width="1.3"/>
<rect x="324.95" y="623.65" width="9.30" height="112.80" fill="#000" stroke="#000" stroke-width="1.1"/>
<line x1="341.73" y1="599.70" x2="341.73" y2="619.40" stroke="#111" stroke-width="1.3"/>
<line x1="338.73" y1="600.10" x2="344.73" y2="600.10" stroke="#111" stroke-width="1.3"/>
<rect x="337.08" y="619.95" width="9.30" height="116.50" fill="#fff" stroke="#000" stroke-width="1.1"/>
<line x1="353.86" y1="607.80" x2="353.86" y2="623.50" stroke="#111" stroke-width="1.3"/>
<line x1="350.86" y1="608.20" x2="356.86" y2="608.20" stroke="#111" stroke-width="1.3"/>
<rect x="349.21" y="624.05" width="9.30" height="112.40" fill="#464646" stroke="#000" stroke-width="1.1"/>
<line x1="365.99" y1="593.50" x2="365.99" y2="617.30" stroke="#111" stroke-width="1.3"/>
<line x1="362.99" y1="593.90" x2="368.99" y2="593.90" stroke="#111" stroke-width="1.3"/>
<rect x="361.34" y="617.85" width="9.30" height="118.60" fill="#c6c6c6" stroke="#000" stroke-width="1.1"/>
<line x1="378.12" y1="585.00" x2="378.12" y2="611.50" stroke="#111" stroke-width="1.3"/>
<line x1="375.12" y1="585.40" x2="381.12" y2="585.40" stroke="#111" stroke-width="1.3"/>
<rect x="373.47" y="612.05" width="9.30" height="124.40" fill="url(#pp3)" stroke="#000" stroke-width="1.1"/>
<line x1="390.25" y1="607.80" x2="390.25" y2="625.10" stroke="#111" stroke-width="1.3"/>
<line x1="387.25" y1="608.20" x2="393.25" y2="608.20" stroke="#111" stroke-width="1.3"/>
<rect x="385.60" y="625.65" width="9.30" height="110.80" fill="url(#pi3k)" stroke="#000" stroke-width="1.1"/>
<line x1="402.38" y1="593.50" x2="402.38" y2="617.30" stroke="#111" stroke-width="1.3"/>
<line x1="399.38" y1="593.90" x2="405.38" y2="593.90" stroke="#111" stroke-width="1.3"/>
<rect x="397.73" y="617.85" width="9.30" height="118.60" fill="url(#tec)" stroke="#000" stroke-width="1.1"/>
<line x1="414.51" y1="615.80" x2="414.51" y2="628.60" stroke="#111" stroke-width="1.3"/>
<line x1="411.51" y1="616.20" x2="417.51" y2="616.20" stroke="#111" stroke-width="1.3"/>
<rect x="409.86" y="629.15" width="9.30" height="107.30" fill="#858585" stroke="#000" stroke-width="1.1"/>
<line x1="426.64" y1="665.50" x2="426.64" y2="675.40" stroke="#111" stroke-width="1.3"/>
<line x1="423.64" y1="665.90" x2="429.64" y2="665.90" stroke="#111" stroke-width="1.3"/>
<rect x="421.99" y="675.95" width="9.30" height="60.50" fill="#000" stroke="#000" stroke-width="1.1"/>
<line x1="438.77" y1="657.70" x2="438.77" y2="667.60" stroke="#111" stroke-width="1.3"/>
<line x1="435.77" y1="658.10" x2="441.77" y2="658.10" stroke="#111" stroke-width="1.3"/>
<rect x="434.12" y="668.15" width="9.30" height="68.30" fill="#fff" stroke="#000" stroke-width="1.1"/>
<line x1="450.90" y1="609.30" x2="450.90" y2="627.40" stroke="#111" stroke-width="1.3"/>
<line x1="447.90" y1="609.70" x2="453.90" y2="609.70" stroke="#111" stroke-width="1.3"/>
<rect x="446.25" y="627.95" width="9.30" height="108.50" fill="#464646" stroke="#000" stroke-width="1.1"/>
<line x1="463.03" y1="596.20" x2="463.03" y2="613.10" stroke="#111" stroke-width="1.3"/>
<line x1="460.03" y1="596.60" x2="466.03" y2="596.60" stroke="#111" stroke-width="1.3"/>
<rect x="458.38" y="613.65" width="9.30" height="122.80" fill="#c6c6c6" stroke="#000" stroke-width="1.1"/>
<line x1="475.16" y1="655.50" x2="475.16" y2="665.50" stroke="#111" stroke-width="1.3"/>
<line x1="472.16" y1="655.90" x2="478.16" y2="655.90" stroke="#111" stroke-width="1.3"/>
<rect x="470.51" y="666.05" width="9.30" height="70.40" fill="url(#pp3)" stroke="#000" stroke-width="1.1"/>
<line x1="487.29" y1="659.10" x2="487.29" y2="667.60" stroke="#111" stroke-width="1.3"/>
<line x1="484.29" y1="659.50" x2="490.29" y2="659.50" stroke="#111" stroke-width="1.3"/>
<rect x="482.64" y="668.15" width="9.30" height="68.30" fill="url(#pi3k)" stroke="#000" stroke-width="1.1"/>
<line x1="499.42" y1="615.30" x2="499.42" y2="623.50" stroke="#111" stroke-width="1.3"/>
<line x1="496.42" y1="615.70" x2="502.42" y2="615.70" stroke="#111" stroke-width="1.3"/>
<rect x="494.77" y="624.05" width="9.30" height="112.40" fill="url(#tec)" stroke="#000" stroke-width="1.1"/>
<line x1="511.55" y1="602.30" x2="511.55" y2="621.50" stroke="#111" stroke-width="1.3"/>
<line x1="508.55" y1="602.70" x2="514.55" y2="602.70" stroke="#111" stroke-width="1.3"/>
<rect x="506.90" y="622.05" width="9.30" height="114.40" fill="#858585" stroke="#000" stroke-width="1.1"/>
<line x1="385.80" y1="549.60" x2="480.40" y2="549.60" stroke="#3c3c3c" stroke-width="1.7"/>
<use href="#st" transform="translate(429.70,545.60) scale(1.0)"/>
<line x1="378.20" y1="559.60" x2="469.20" y2="559.60" stroke="#3c3c3c" stroke-width="1.7"/>
<use href="#st" transform="translate(420.30,555.60) scale(1.0)"/>
<line x1="338.00" y1="570.00" x2="435.80" y2="570.00" stroke="#3c3c3c" stroke-width="1.7"/>
<use href="#st" transform="translate(386.50,566.00) scale(1.0)"/>
<line x1="329.80" y1="580.80" x2="421.60" y2="580.80" stroke="#3c3c3c" stroke-width="1.7"/>
<use href="#st" transform="translate(375.00,576.80) scale(1.0)"/>
<line x1="425.90" y1="572.80" x2="509.00" y2="572.80" stroke="#3c3c3c" stroke-width="1.7"/>
<use href="#st" transform="translate(468.20,568.80) scale(1.0)"/>
<line x1="425.90" y1="582.60" x2="496.70" y2="582.60" stroke="#3c3c3c" stroke-width="1.7"/>
<use href="#st" transform="translate(459.70,578.60) scale(1.0)"/>
<line x1="425.90" y1="592.80" x2="462.50" y2="592.80" stroke="#3c3c3c" stroke-width="1.7"/>
<use href="#st" transform="translate(445.50,588.80) scale(1.0)"/>
<line x1="425.90" y1="605.60" x2="449.10" y2="605.60" stroke="#3c3c3c" stroke-width="1.7"/>
<use href="#st" transform="translate(438.10,601.60) scale(1.0)"/>
<path d="M324.30 751.80 V757.30 H517.30 V751.80" fill="none" stroke="#111" stroke-width="1.3"/>
<path d="M423.00 767.30 V772.80 H517.30 V767.30" fill="none" stroke="#111" stroke-width="1.3"/>
<rect x="77.75" y="779.35" width="11.00" height="12.60" fill="#000" stroke="#000" stroke-width="1.3"/>
<text x="94.00" y="790.80" font-size="12.8" text-anchor="start" font-weight="bold" >Untreated</text>
<rect x="164.05" y="779.15" width="11.00" height="12.60" fill="#fff" stroke="#000" stroke-width="1.3"/>
<text x="180.00" y="790.80" font-size="12.8" text-anchor="start" font-weight="bold" >DMSO</text>
<rect x="224.05" y="778.95" width="11.00" height="12.60" fill="#464646" stroke="#000" stroke-width="1.3"/>
<text x="239.80" y="790.80" font-size="12.8" text-anchor="start" font-weight="bold" >Syk inhibitor</text>
<rect x="327.65" y="778.75" width="11.00" height="12.60" fill="#c6c6c6" stroke="#000" stroke-width="1.3"/>
<text x="342.80" y="790.80" font-size="12.8" text-anchor="start" font-weight="bold" >Src inhibitor (PP2)</text>
<rect x="466.05" y="779.15" width="11.00" height="12.60" fill="url(#pp3)" stroke="#000" stroke-width="1.3"/>
<text x="482.30" y="790.80" font-size="12.8" text-anchor="start" font-weight="bold" >PP3</text>
<rect x="77.75" y="799.15" width="11.00" height="12.60" fill="url(#pi3k)" stroke="#000" stroke-width="1.3"/>
<text x="94.80" y="810.00" font-size="12.8" text-anchor="start" font-weight="bold" >PI3K inhibitor</text>
<rect x="187.85" y="799.15" width="11.00" height="12.60" fill="url(#tec)" stroke="#000" stroke-width="1.3"/>
<text x="204.00" y="810.00" font-size="12.8" text-anchor="start" font-weight="bold" >Tec kinase inhibitor</text>
<rect x="330.45" y="799.95" width="11.00" height="12.60" fill="#858585" stroke="#000" stroke-width="1.3"/>
<text x="344.90" y="810.00" font-size="12.8" text-anchor="start" font-weight="bold" textLength="81.6" lengthAdjust="spacingAndGlyphs">p38 inhibitor</text>
</svg></body></html>
